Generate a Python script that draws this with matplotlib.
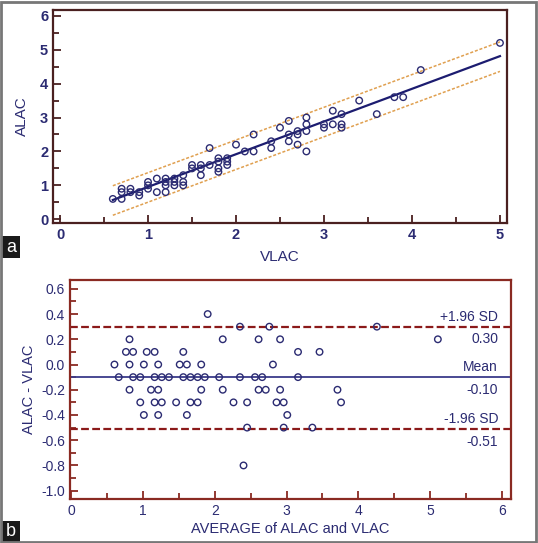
#!/usr/bin/env python3
import numpy as np
import matplotlib
matplotlib.use("Agg")
import matplotlib.pyplot as plt
from matplotlib.patches import Rectangle

plt.rcParams['font.family'] = ['Liberation Sans', 'DejaVu Sans']

# panel a: VLAC vs ALAC
vlac = [0.6, 0.7, 0.7, 0.7, 0.8, 0.8, 0.9, 0.9, 1.0, 1.0, 1.0, 1.1, 1.1,
        1.2, 1.2, 1.2, 1.2, 1.3, 1.3, 1.3, 1.4, 1.4, 1.4, 1.5, 1.5,
        1.6, 1.6, 1.6, 1.7, 1.7, 1.8, 1.8, 1.8, 1.8, 1.9, 1.9, 1.9,
        2.0, 2.1, 2.2, 2.2, 2.4, 2.4, 2.5, 2.6, 2.6, 2.6, 2.7, 2.7, 2.7,
        2.8, 2.8, 2.8, 2.8, 3.0, 3.0, 3.1, 3.1, 3.2, 3.2, 3.2,
        3.4, 3.6, 3.8, 3.9, 4.1, 5.0]
alac = [0.6, 0.6, 0.9, 0.8, 0.9, 0.8, 0.8, 0.7, 1.1, 1.0, 0.9, 1.2, 0.8,
        1.2, 1.1, 1.0, 0.8, 1.2, 1.1, 1.0, 1.3, 1.1, 1.0, 1.6, 1.5,
        1.6, 1.5, 1.3, 2.1, 1.6, 1.8, 1.7, 1.5, 1.4, 1.8, 1.7, 1.6,
        2.2, 2.0, 2.5, 2.0, 2.3, 2.1, 2.7, 2.9, 2.5, 2.3, 2.6, 2.5, 2.2,
        3.0, 2.8, 2.6, 2.0, 2.8, 2.7, 3.2, 2.8, 3.1, 2.8, 2.7,
        3.5, 3.1, 3.6, 3.6, 4.4, 5.2]
reg_intercept = -0.01
reg_slope = 0.964
band_up = 0.42
band_lo = 0.45

# panel b: Bland-Altman
avg = [0.60, 0.66, 0.76, 0.81, 0.81, 0.81, 0.86, 0.86, 0.96, 0.96, 1.01, 1.01,
       1.05, 1.11, 1.16, 1.16, 1.16, 1.21, 1.21, 1.21, 1.26, 1.26, 1.36, 1.46,
       1.51, 1.56, 1.56, 1.61, 1.61, 1.66, 1.66, 1.76, 1.76, 1.81, 1.81, 1.86,
       1.90, 2.06, 2.11, 2.11, 2.26, 2.35, 2.35, 2.40, 2.45, 2.45, 2.56, 2.61,
       2.61, 2.66, 2.71, 2.76, 2.81, 2.86, 2.91, 2.91, 2.96, 2.96, 3.01, 3.16,
       3.16, 3.36, 3.46, 3.71, 3.76, 4.26, 5.11]
diff = [0.0, -0.1, 0.1, 0.2, 0.0, -0.2, 0.1, -0.1, -0.1, -0.3, 0.0, -0.4,
        0.1, -0.2, 0.1, -0.1, -0.3, 0.0, -0.2, -0.4, -0.1, -0.3, -0.1, -0.3,
        0.0, 0.1, -0.1, 0.0, -0.4, -0.1, -0.3, -0.1, -0.3, 0.0, -0.2, -0.1,
        0.4, -0.1, 0.2, -0.2, -0.3, 0.3, -0.1, -0.8, -0.3, -0.5, -0.1, 0.2,
        -0.2, -0.1, -0.2, 0.3, 0.0, -0.3, 0.2, -0.2, -0.3, -0.5, -0.4, 0.1,
        -0.1, -0.5, 0.1, -0.2, -0.3, 0.3, 0.2]
mean_diff = -0.10
upper_loa = 0.30
lower_loa = -0.51
diff_ticks = [-1.0, -0.8, -0.6, -0.4, -0.2, 0.0, 0.2, 0.4, 0.6]

navy = '#2b2b72'
frame_a = '#4a2020'
frame_b = '#8a2a22'

fig = plt.figure(figsize=(5.38, 5.43), dpi=100)

# ---- panel a
ax1 = fig.add_axes([53/538, 1-223/543, 454/538, 213/543])
ax1.scatter(vlac, alac, s=22, facecolors='none', edgecolors=navy, linewidths=1.0, zorder=3)
xs = np.array([min(vlac), max(vlac)])
fit = reg_intercept + reg_slope*xs
ax1.plot(xs, fit, color='#1c1c70', lw=1.6, zorder=2)
ax1.plot(xs, fit + band_up, color='#e0a050', lw=1.1, ls=(0, (2, 1.2)), zorder=2)
ax1.plot(xs, fit - band_lo, color='#e0a050', lw=1.1, ls=(0, (2, 1.2)), zorder=2)
ax1.set_xlim(-0.08, 5.08)
ax1.set_ylim(-0.11, 6.17)
ax1.set_xticks(np.arange(0, 6, 1))
ax1.set_xticks(np.arange(0.5, 5, 1), minor=True)
ax1.set_yticks(np.arange(0, 7, 1))
ax1.set_yticks(np.arange(0.5, 6, 1), minor=True)
for sp in ax1.spines.values():
    sp.set_color(frame_a)
    sp.set_linewidth(1.6)
ax1.tick_params(which='both', direction='in', color=frame_a, width=1.3,
                labelcolor=navy, labelsize=10.5)
ax1.tick_params(which='major', length=6)
ax1.tick_params(which='minor', length=4)
for lab in ax1.get_xticklabels() + ax1.get_yticklabels():
    lab.set_fontweight('bold')
ax1.set_xlabel('VLAC', color=navy, fontsize=11, labelpad=6)
ax1.set_ylabel('ALAC', color=navy, fontsize=11, labelpad=8)

# ---- panel b
ax2 = fig.add_axes([70/538, 1-499/543, 441/538, 219/543])
ax2.scatter(avg, diff, s=22, facecolors='none', edgecolors=navy, linewidths=1.0, zorder=3)
ax2.axhline(mean_diff, color='#3a3a8a', lw=1.3, zorder=2)
ax2.axhline(upper_loa, color='#8b1a1a', lw=1.6, ls=(0, (3.5, 1.5)), zorder=2)
ax2.axhline(lower_loa, color='#8b1a1a', lw=1.6, ls=(0, (3.5, 1.5)), zorder=2)
ax2.set_xlim(-0.02, 6.13)
ax2.set_ylim(-1.066, 0.67)
ax2.set_xticks(np.arange(0, 7, 1))
ax2.set_xticks(np.arange(0.5, 6, 1), minor=True)
ax2.set_yticks(diff_ticks)
ax2.set_yticks([v + 0.1 for v in diff_ticks[:-1]], minor=True)
ax2.set_yticklabels(['%.1f' % v for v in diff_ticks])
for sp in ax2.spines.values():
    sp.set_color(frame_b)
    sp.set_linewidth(1.6)
ax2.tick_params(which='both', direction='in', color=frame_b, width=1.3,
                labelcolor=navy, labelsize=10)
ax2.tick_params(which='major', length=6)
ax2.tick_params(which='minor', length=4)
ax2.set_xlabel('AVERAGE of ALAC and VLAC', color=navy, fontsize=10.5, labelpad=3)
ax2.set_ylabel('ALAC - VLAC', color=navy, fontsize=10.5, labelpad=4)

tx = 5.95
ax2.text(tx, upper_loa + 0.025, '+1.96 SD', ha='right', va='bottom', color=navy, fontsize=10)
ax2.text(tx, upper_loa - 0.045, '%.2f' % upper_loa, ha='right', va='top', color=navy, fontsize=10)
ax2.text(tx, mean_diff + 0.025, 'Mean', ha='right', va='bottom', color=navy, fontsize=10)
ax2.text(tx, mean_diff - 0.045, '%.2f' % mean_diff, ha='right', va='top', color=navy, fontsize=10)
ax2.text(tx, lower_loa + 0.025, '-1.96 SD', ha='right', va='bottom', color=navy, fontsize=10)
ax2.text(tx, lower_loa - 0.045, '%.2f' % lower_loa, ha='right', va='top', color=navy, fontsize=10)

# panel letters and outer frame
for letter, y0 in [('a', 1-258/543), ('b', 0.0)]:
    fig.patches.append(Rectangle((2/538, y0), 18/538, 22/543, transform=fig.transFigure,
                                 facecolor='#1a1a1a', edgecolor='none'))
    fig.text(11/538, y0 + 11/543, letter, color='white', fontsize=13,
             ha='center', va='center')
fig.patches.append(Rectangle((0.002, 0.002), 0.994, 0.994, transform=fig.transFigure,
                             facecolor='none', edgecolor='#777777', lw=2))

plt.savefig('out.png', dpi=100)
